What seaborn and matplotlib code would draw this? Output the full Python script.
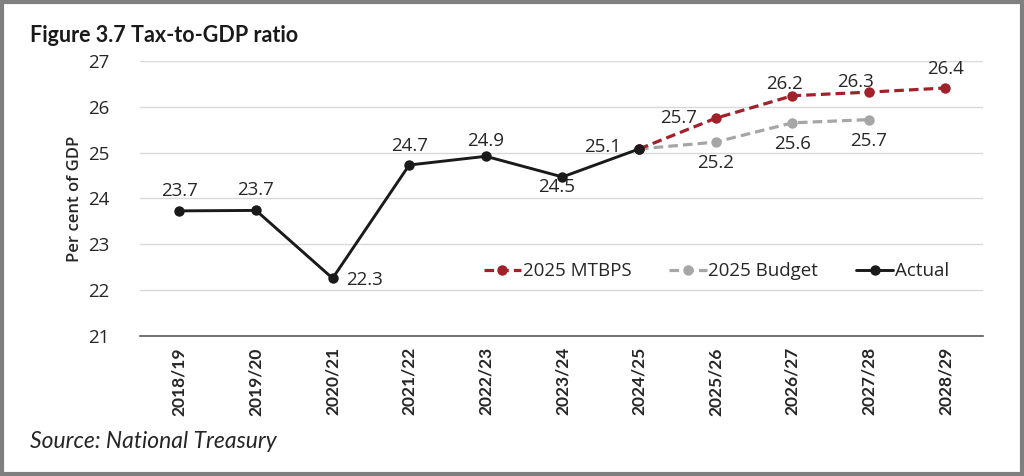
import matplotlib
matplotlib.use("Agg")
import matplotlib.pyplot as plt
import seaborn as sns
import pandas as pd
from matplotlib.patches import Rectangle

years = ["2018/19", "2019/20", "2020/21", "2021/22", "2022/23", "2023/24",
         "2024/25", "2025/26", "2026/27", "2027/28", "2028/29"]
actual = [23.73, 23.74, 22.26, 24.73, 24.92, 24.47, 25.08]
mtbps = [25.08, 25.75, 26.24, 26.32, 26.41]
budget = [25.08, 25.23, 25.65, 25.72]

actual_labels = ["23.7", "23.7", "22.3", "24.7", "24.9", "24.5", "25.1"]
mtbps_labels = ["25.7", "26.2", "26.3", "26.4"]
budget_labels = ["25.2", "25.6", "25.7"]

sns.set_theme(style="white")
plt.rcParams["font.family"] = ["Open Sans", "DejaVu Sans"]

fig = plt.figure(figsize=(10.24, 4.76), dpi=100)
ax = fig.add_axes([0.137, 0.294, 0.823, 0.578])

df_a = pd.DataFrame({"x": list(range(len(actual))), "y": actual})
df_m = pd.DataFrame({"x": list(range(6, 6 + len(mtbps))), "y": mtbps})
df_b = pd.DataFrame({"x": list(range(6, 6 + len(budget))), "y": budget})

red = "#A0212A"
grey = "#A6A6A6"
black = "#1a1a1a"

sns.lineplot(data=df_m, x="x", y="y", ax=ax, color=red, linestyle=(0, (3, 1.6)),
             linewidth=2.3, marker="o", markersize=7.5, markeredgewidth=0,
             label="2025 MTBPS", zorder=3)
sns.lineplot(data=df_b, x="x", y="y", ax=ax, color=grey, linestyle=(0, (3, 1.6)),
             linewidth=2.3, marker="o", markersize=7.5, markeredgewidth=0,
             label="2025 Budget", zorder=2)
sns.lineplot(data=df_a, x="x", y="y", ax=ax, color=black, linewidth=2.1,
             marker="o", markersize=7.5, markeredgewidth=0, label="Actual", zorder=4)

fs = 13.5
txtc = "#262626"
# offsets in pixels (converted to points)
p = 0.72
a_off = [(0, 20), (0, 20), (32, -2), (0, 19), (0, 15), (-6, -10), (-36, 2)]
for i, (v, lab) in enumerate(zip(actual, actual_labels)):
    dx, dy = a_off[i]
    ax.annotate(lab, (i, v), xytext=(dx * p, dy * p), textcoords="offset points",
                ha="center", va="center", fontsize=fs, color=txtc)
m_off = [(-37, 0), (-8, 12), (-13, 10), (0, 19)]
for j, (v, lab) in enumerate(zip(mtbps[1:], mtbps_labels)):
    dx, dy = m_off[j]
    ax.annotate(lab, (7 + j, v), xytext=(dx * p, dy * p), textcoords="offset points",
                ha="center", va="center", fontsize=fs, color=txtc)
for j, (v, lab) in enumerate(zip(budget[1:], budget_labels)):
    ax.annotate(lab, (7 + j, v), xytext=(0, -21 * p), textcoords="offset points",
                ha="center", va="center", fontsize=fs, color=txtc)

ax.set_xlim(-0.51, 10.49)
ax.set_ylim(21, 27)
ax.set_yticks(range(21, 28))
ax.set_xticks(range(len(years)))
ax.set_xticklabels(years, rotation=90, fontweight="bold", fontsize=12.5, color=txtc,
                   family=["Lato", "DejaVu Sans"])
ax.tick_params(axis="y", labelsize=13.5, labelcolor=txtc, length=0, pad=22)
ax.tick_params(axis="x", length=0, pad=8)
ax.set_xlabel("")
ax.set_ylabel("Per cent of GDP", fontsize=12, fontweight="semibold", color=txtc, labelpad=4)
ax.grid(axis="y", color="#d9d9d9", linewidth=1)
ax.grid(axis="x", visible=False)
for s in ["top", "right", "left"]:
    ax.spines[s].set_visible(False)
ax.spines["bottom"].set_color("#595959")
ax.spines["bottom"].set_linewidth(1.2)

leg = ax.legend(loc="center right", bbox_to_anchor=(0.98, 0.235), ncol=3, frameon=False,
                fontsize=13.5, handlelength=2.0, handletextpad=0.1, columnspacing=2.0)
for t in leg.get_texts():
    t.set_color(txtc)

fig.text(0.029, 0.925, "Figure 3.7 Tax-to-GDP ratio", fontsize=15.5, fontweight="bold",
         color="#1a1a1a", ha="left", va="center", family=["Lato", "DejaVu Sans"])
fig.text(0.029, 0.073, "Source: National Treasury", fontsize=16.5, style="italic",
         color="#262626", ha="left", va="center", family=["Lato", "DejaVu Sans"])

fig.patches.append(Rectangle((0.002, 0.004), 0.996, 0.992, transform=fig.transFigure,
                             fill=False, edgecolor="#7f7f7f", linewidth=3))

fig.savefig("out.png", dpi=100, facecolor="white")
